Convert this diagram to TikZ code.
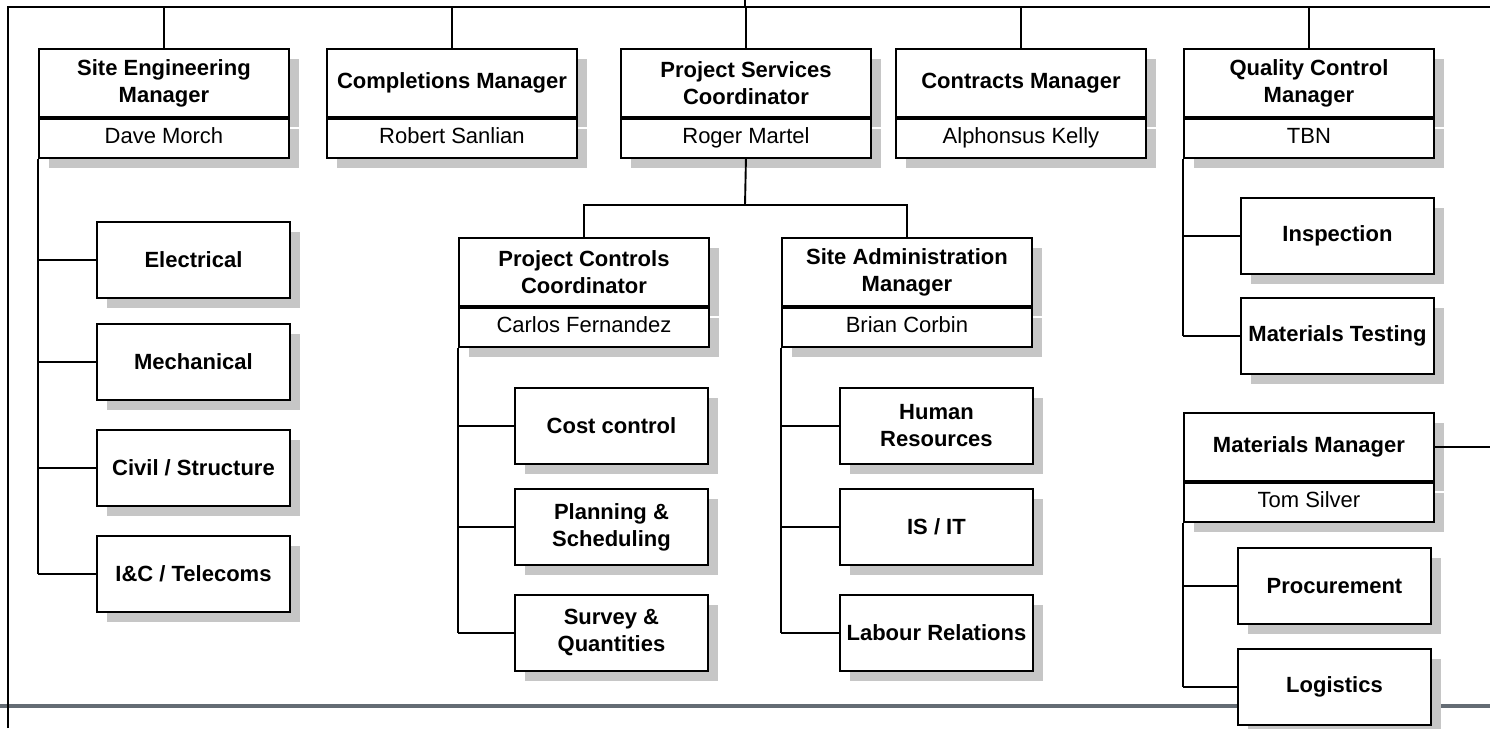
\documentclass[tikz,border=0pt]{standalone}
\usepackage{fontspec}
\setmainfont{Liberation Sans}
\usetikzlibrary{shadows}
\definecolor{rulegray}{RGB}{100,108,116}

\tikzset{
  post/.style={draw, fill=white, line width=1.9pt, inner sep=0pt, align=center,
    drop shadow={shadow xshift=10pt, shadow yshift=-10pt, fill=gray!45, opacity=1}},
  posttitle/.style={post, minimum width=250pt, minimum height=68pt, font=\bfseries\fontsize{22}{27}\selectfont},
  postname/.style={post, minimum width=250pt, minimum height=39pt, text height=16pt, text depth=5pt,
    font=\fontsize{22}{27}\selectfont},
  unit/.style={post, minimum width=193pt, minimum height=76pt, font=\bfseries\fontsize{22}{27}\selectfont},
  link/.style={line width=1.9pt},
}

\begin{document}
\begin{tikzpicture}[x=1pt, y=-1pt]
\useasboundingbox (0,0) rectangle (1490,728);
\draw[rulegray, line width=3.5pt] (0,706) -- (1490,706); % page rule

% managers
\foreach \nm/\x/\y/\ttl/\who in {sem/38/48/{Site Engineering\\Manager}/Dave Morch,
    com/326/48/{Completions Manager}/Robert Sanlian,
    psc/620/48/{Project Services\\Coordinator}/Roger Martel,
    con/895/48/{Contracts Manager}/Alphonsus Kelly,
    qcm/1183/48/{Quality Control\\Manager}/TBN,
    pcc/458/237/{Project Controls\\Coordinator}/Carlos Fernandez,
    sam/781/237/{Site Administration\\Manager}/Brian Corbin,
    mm/1183/412/{Materials Manager}/Tom Silver}
  {
  \node[posttitle, anchor=north west] (\nm) at (\x,\y) {\ttl};
  \node[postname, anchor=north] (\nm-n) at (\nm.south) {\who};
  }

% units
\foreach \nm/\x/\y/\txt in {elec/96/221/Electrical, mech/96/323/Mechanical,
    civ/96/429/{Civil / Structure}, ic/96/535/{I\&C / Telecoms},
    cost/514/387/{Cost control}, plan/514/488/{Planning \&\\Scheduling},
    surv/514/594/{Survey \&\\Quantities},
    hr/839/387/{Human\\Resources}, isit/839/488/{IS / IT}, lab/839/594/{Labour Relations},
    insp/1240/197/Inspection, mtest/1240/297/{Materials Testing},
    proc/1237/547/Procurement, logi/1237/648/Logistics}
  \node[unit, anchor=north west] (\nm) at (\x,\y) {\txt};

% top bus
\coordinate (ceo) at (745,0);
\coordinate (top) at (745,7);
\coordinate (bl) at (8,728);
\coordinate (tr) at (1490,7);
\draw[link] (bl) |- (tr);
\draw[link] (ceo) -- (top);
\foreach \nm in {sem,com,psc,con,qcm} \draw[link] (\nm.north) -- (\nm.north |- top);

% project services
\coordinate (bus) at (745,205);
\draw[link] (psc-n.south) -- (bus);
\draw[link] (pcc.north) |- (bus) -| (sam.north);

% spines
\draw[link] (sem-n.south west) -- (sem-n.south west |- ic.west);
\foreach \u in {elec,mech,civ,ic} \draw[link] (\u.west) -- (\u.west -| sem-n.south west);
\draw[link] (pcc-n.south west) -- (pcc-n.south west |- surv.west);
\foreach \u in {cost,plan,surv} \draw[link] (\u.west) -- (\u.west -| pcc-n.south west);
\draw[link] (sam-n.south west) -- (sam-n.south west |- lab.west);
\foreach \u in {hr,isit,lab} \draw[link] (\u.west) -- (\u.west -| sam-n.south west);
\draw[link] (qcm-n.south west) -- (qcm-n.south west |- mtest.west);
\foreach \u in {insp,mtest} \draw[link] (\u.west) -- (\u.west -| qcm-n.south west);
\draw[link] (mm-n.south west) -- (mm-n.south west |- logi.west);
\foreach \u in {proc,logi} \draw[link] (\u.west) -- (\u.west -| mm-n.south west);

% materials off to the right
\coordinate (mmr) at (1490,450);
\draw[link] (mm.east) -- (mm.east -| mmr);
\end{tikzpicture}
\end{document}
